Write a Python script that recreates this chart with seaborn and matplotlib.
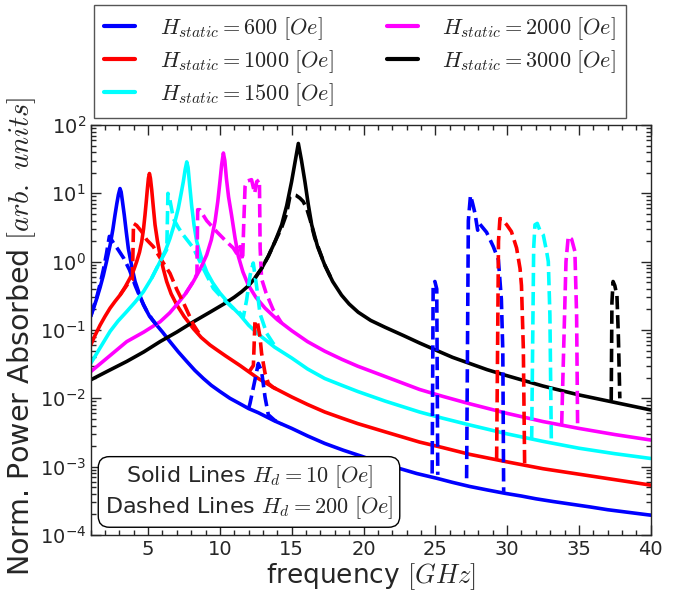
import numpy as np
import matplotlib
matplotlib.use("Agg")
import matplotlib.pyplot as plt
from matplotlib.ticker import MultipleLocator, FixedLocator, NullFormatter
import seaborn as sns

# ---------------- data ----------------
# Values are log10(power) as read on the logarithmic y axis.
# Solid lines (H_d = 10 Oe)
f_600 = [1.0, 1.2, 1.42, 1.65, 1.88, 2.1, 2.35, 2.55, 2.69, 2.82, 2.93, 3.04, 3.12, 3.2, 3.34, 3.48, 3.62,
         3.85, 4.09, 4.4, 4.67, 5.1, 5.6, 6.0, 6.52, 7.1, 7.69, 8.25, 8.85, 9.4, 10.0, 10.7, 11.4, 12.0,
         12.67, 13.8, 15.0, 16.1, 17.3, 18.6, 19.9, 21.1, 22.4, 23.7, 25.1, 26.2, 27.4, 28.6, 29.85, 31.0,
         32.0, 33.2, 34.5, 35.8, 37.0, 38.5, 40.0]
lp_600 = [-0.80, -0.68, -0.54, -0.38, -0.20, 0.0, 0.24, 0.48, 0.68, 0.85, 0.98, 1.07, 1.02, 0.90, 0.68, 0.43,
          0.195, -0.06, -0.29, -0.48, -0.63, -0.80, -0.93, -1.03, -1.17, -1.32, -1.46, -1.59, -1.71, -1.81,
          -1.90, -2.00, -2.08, -2.15, -2.21, -2.33, -2.44, -2.55, -2.66, -2.76, -2.85, -2.94, -3.02, -3.10,
          -3.17, -3.23, -3.29, -3.34, -3.39, -3.43, -3.47, -3.51, -3.55, -3.59, -3.63, -3.67, -3.71]

f_1000 = [1.0, 1.3, 1.65, 2.0, 2.35, 2.7, 3.04, 3.4, 3.74, 4.0, 4.2, 4.4, 4.55, 4.68, 4.78, 4.87, 4.95, 5.02,
          5.09, 5.16, 5.25, 5.36, 5.48, 5.65, 5.83, 6.05, 6.29, 6.6, 6.99, 7.5, 8.15, 8.7, 9.31, 9.85, 10.4,
          11.4, 12.0, 12.67, 13.8, 15.0, 16.1, 17.3, 18.5, 19.6, 21.5, 23.9, 25.5, 27.4, 30.0, 32.5, 35.0,
          37.5, 40.0]
lp_1000 = [-1.22, -1.08, -0.93, -0.80, -0.68, -0.58, -0.49, -0.37, -0.24, -0.12, 0.0, 0.14, 0.29, 0.48, 0.68,
           0.88, 1.07, 1.22, 1.29, 1.22, 1.05, 0.80, 0.54, 0.30, 0.10, -0.10, -0.29, -0.47, -0.63, -0.80,
           -0.98, -1.11, -1.22, -1.30, -1.38, -1.52, -1.61, -1.71, -1.85, -1.98, -2.09, -2.20, -2.29, -2.37,
           -2.49, -2.64, -2.72, -2.82, -2.93, -3.03, -3.11, -3.19, -3.27]

f_1500 = [1.0, 1.6, 2.35, 2.9, 3.51, 4.1, 4.67, 5.25, 5.83, 6.2, 6.52, 6.8, 7.1, 7.3, 7.45, 7.58, 7.69, 7.78,
          7.88, 8.03, 8.2, 8.38, 8.7, 9.08, 9.5, 10.0, 10.7, 11.4, 12.0, 12.67, 13.8, 15.0, 16.1, 17.3, 18.5,
          19.6, 21.5, 23.9, 25.5, 27.4, 30.0, 32.5, 35.0, 37.5, 40.0]
lp_1500 = [-1.49, -1.28, -1.02, -0.87, -0.73, -0.59, -0.44, -0.24, 0.0, 0.16, 0.34, 0.53, 0.78, 1.0, 1.17,
           1.35, 1.46, 1.38, 1.15, 0.82, 0.53, 0.30, 0.06, -0.15, -0.31, -0.46, -0.63, -0.78, -0.93, -1.06,
           -1.25, -1.41, -1.57, -1.71, -1.81, -1.90, -2.04, -2.20, -2.29, -2.39, -2.52, -2.63, -2.73, -2.81,
           -2.88]

f_2000 = [1.0, 2.2, 3.51, 4.7, 5.83, 6.5, 6.99, 7.6, 8.15, 8.65, 9.08, 9.4, 9.66, 9.85, 10.0, 10.12, 10.24,
          10.34, 10.45, 10.6, 10.81, 11.05, 11.28, 11.6, 11.97, 12.5, 13.14, 14.0, 15.0, 16.1, 17.3, 18.5,
          19.6, 21.5, 23.9, 25.5, 27.4, 30.0, 32.5, 35.0, 37.5, 40.0]
lp_2000 = [-1.61, -1.40, -1.17, -1.03, -0.88, -0.75, -0.63, -0.47, -0.29, -0.10, 0.10, 0.32, 0.59, 0.88, 1.17,
           1.42, 1.59, 1.48, 1.22, 0.95, 0.68, 0.35, 0.08, -0.15, -0.34, -0.52, -0.68, -0.85, -1.01, -1.17,
           -1.31, -1.43, -1.53, -1.68, -1.87, -1.97, -2.08, -2.22, -2.34, -2.44, -2.53, -2.61]

f_3000 = [1.0, 2.2, 3.51, 4.7, 5.83, 7.0, 8.15, 9.3, 10.35, 11.0, 11.51, 12.0, 12.44, 12.9, 13.37, 13.85, 14.3,
          14.65, 14.99, 15.25, 15.46, 15.68, 15.92, 16.15, 16.39, 16.8, 17.3, 17.85, 18.47, 19.0, 19.63, 20.5,
          21.5, 22.77, 23.9, 25.1, 26.2, 27.4, 28.6, 29.85, 32.5, 35.0, 37.5, 40.0]
lp_3000 = [-1.73, -1.60, -1.46, -1.32, -1.17, -1.03, -0.88, -0.74, -0.61, -0.52, -0.44, -0.35, -0.24, -0.10,
           0.08, 0.30, 0.54, 0.82, 1.17, 1.48, 1.73, 1.48, 1.17, 0.84, 0.54, 0.22, -0.05, -0.29, -0.49, -0.62,
           -0.74, -0.86, -0.96, -1.08, -1.19, -1.30, -1.40, -1.49, -1.58, -1.66, -1.82, -1.95, -2.06, -2.17]

# Dashed lines (H_d = 200 Oe), as separate segments
fd_600 = [
    [1.0, 1.2, 1.42, 1.65, 1.88, 2.1, 2.3, 2.6, 2.93, 3.3, 3.7, 4.1, 4.5, 4.9, 5.3, 5.6],
    [12.0, 12.1, 12.44, 12.67, 12.9, 13.14, 13.37, 13.8, 14.3],
    [24.78, 24.85, 24.97, 25.1, 25.17],
    [27.18, 27.3, 27.45, 27.6, 27.76, 27.95, 28.1, 28.57, 29.04, 29.39, 29.6, 29.7, 29.76],
]
lpd_600 = [
    [-0.80, -0.66, -0.52, -0.33, -0.12, 0.12, 0.37, 0.27, 0.17, 0.05, -0.12, -0.35, -0.55, -0.72, -0.85, -0.93],
    [-2.15, -2.07, -1.73, -1.49, -1.60, -1.98, -2.24, -2.32, -2.38],
    [-3.10, -0.35, -0.29, -0.40, -3.12],
    [-3.17, 0.60, 0.97, 0.85, 0.71, 0.46, 0.55, 0.43, 0.22, 0.03, -0.55, -1.30, -3.37],
]

fd_1000 = [
    [3.04, 3.6, 3.9, 3.95, 3.98, 4.2, 4.55, 4.9, 5.36, 5.94, 6.52, 7.0, 7.5, 8.15, 8.7],
    [12.0, 12.33, 12.44, 12.6, 12.79, 12.9, 13.14, 13.37, 13.7, 14.2],
    [29.27, 29.4, 29.5, 29.65, 29.97, 30.3, 30.66, 30.9, 31.0, 31.13, 31.22],
]
lpd_1000 = [
    [-0.49, -0.32, -0.26, 0.20, 0.56, 0.53, 0.44, 0.32, 0.22, 0.02, -0.17, -0.41, -0.62, -0.92, -1.10],
    [-1.62, -1.52, -0.87, -0.87, -1.10, -1.34, -1.63, -1.78, -1.84, -1.89],
    [-2.90, 0.30, 0.63, 0.62, 0.54, 0.44, 0.20, -0.10, -0.35, -1.27, -2.95],
]

fd_1500 = [
    [5.25, 5.83, 6.3, 6.34, 6.38, 6.5, 6.76, 7.1, 7.45, 8.15, 8.61, 9.08, 9.54, 10.24, 10.9, 11.3, 11.63,
     11.86, 12.1, 12.32, 12.56, 12.79, 13.26, 13.72, 14.0],
    [31.71, 31.85, 31.94, 32.1, 32.3, 32.52, 32.75, 32.87, 32.98, 33.08],
]
lpd_1500 = [
    [-0.24, 0.0, 0.18, 0.60, 1.00, 0.92, 0.63, 0.50, 0.39, 0.20, 0.0, -0.20, -0.39, -0.55, -0.68, -0.73,
     -0.81, -0.56, -0.20, -0.02, -0.37, -0.76, -1.05, -1.20, -1.25],
    [-2.60, 0.20, 0.54, 0.56, 0.45, 0.39, 0.15, 0.0, -0.78, -2.63],
]

fd_2000 = [
    [7.6, 8.15, 8.4, 8.45, 8.6, 9.08, 9.77, 10.47, 10.93, 11.17, 11.4, 11.58, 11.65, 11.75, 11.9, 12.2, 12.42,
     12.56, 12.75, 12.8, 12.9, 13.2, 13.7, 14.3],
    [33.8, 34.1, 34.26, 34.49, 34.72, 34.84, 34.91],
]
lpd_2000 = [
    [-0.47, -0.29, -0.18, 0.76, 0.76, 0.60, 0.44, 0.29, 0.20, 0.12, 0.22, 0.02, 0.50, 1.10, 1.18, 1.20, 1.00,
     1.17, 1.20, 0.20, -0.25, -0.45, -0.70, -0.90],
    [-2.38, 0.0, 0.37, 0.33, 0.15, -0.78, -2.41],
]

fd_3000 = [
    [12.44, 12.9, 13.37, 13.85, 14.3, 14.64, 14.87, 15.1, 15.3, 15.57, 15.8, 16.04, 16.3, 16.6, 17.3, 17.85],
    [37.25, 37.3, 37.38, 37.5, 37.65, 37.75, 37.85],
]
lpd_3000 = [
    [-0.24, -0.10, 0.08, 0.30, 0.50, 0.70, 0.95, 0.98, 0.97, 0.93, 0.88, 0.78, 0.60, 0.35, -0.05, -0.29],
    [-2.03, -0.60, -0.29, -0.35, -0.50, -1.10, -2.00],
]

fields = [600, 1000, 1500, 2000, 3000]
colors = ["#0000ff", "#ff0000", "#00ffff", "#ff00ff", "#000000"]
labels = [r"$H_{static} = %d\ [Oe]$" % h for h in fields]
x_ticks = [5, 10, 15, 20, 25, 30, 35, 40]
y_decades = [-4, -3, -2, -1, 0, 1, 2]

solid_f = [f_600, f_1000, f_1500, f_2000, f_3000]
solid_lp = [lp_600, lp_1000, lp_1500, lp_2000, lp_3000]
dash_f = [fd_600, fd_1000, fd_1500, fd_2000, fd_3000]
dash_lp = [lpd_600, lpd_1000, lpd_1500, lpd_2000, lpd_3000]

# ---------------- style ----------------
sns.set_style("ticks")
plt.rcParams["font.family"] = ["DejaVu Sans"]
plt.rcParams["mathtext.fontset"] = "cm"
plt.rcParams["axes.linewidth"] = 1.0

W, H = 679, 593
fig = plt.figure(figsize=(W / 100, H / 100), dpi=100)
ax_l, ax_r, ax_t, ax_b = 90.7, 650.7, 125, 535
ax = fig.add_axes([ax_l / W, 1 - ax_b / H, (ax_r - ax_l) / W, (ax_b - ax_t) / H])

LW = 2.6
for fs, lps, c, lab in zip(solid_f, solid_lp, colors, labels):
    sns.lineplot(x=fs, y=np.power(10.0, lps), ax=ax, color=c, linewidth=LW, sort=False,
                 estimator=None, label=lab)

for segs_f, segs_lp, c in zip(dash_f, dash_lp, colors):
    for sf, slp in zip(segs_f, segs_lp):
        sns.lineplot(x=sf, y=np.power(10.0, slp), ax=ax, color=c, linewidth=LW, linestyle="--",
                     sort=False, estimator=None)

ax.set_yscale("log")
ax.set_xlim(1, 40)
ax.set_ylim(1e-4, 1e2)
ax.set_xticks(x_ticks)
ax.xaxis.set_minor_locator(MultipleLocator(1))
major_y = [10.0 ** k for k in y_decades]
minor_y = [m * 10.0 ** k for k in y_decades[:-1] for m in range(2, 10)]
ax.yaxis.set_major_locator(FixedLocator(major_y))
ax.yaxis.set_minor_locator(FixedLocator(minor_y))
ax.yaxis.set_minor_formatter(NullFormatter())
ax.tick_params(which="both", direction="in", top=True, right=True, labelsize=14, width=1)
ax.tick_params(which="major", length=7)
ax.tick_params(which="minor", length=3.5)

ax.set_xlabel(r"frequency $[GHz]$", fontsize=19, labelpad=2)
ax.set_ylabel(r"Norm. Power Absorbed $[arb.\ units]$", fontsize=20.5)
ax.yaxis.set_label_coords(-0.094, 0.485)

hs, ls = ax.get_legend_handles_labels()
leg = ax.legend(hs[:5], ls[:5], ncol=2, loc="upper center", bbox_to_anchor=(0.481, 1.2927),
                borderaxespad=0, fontsize=16, handlelength=1.4, handletextpad=1.1,
                columnspacing=2.4, labelspacing=0.28, fancybox=False, framealpha=1,
                edgecolor="#555555", borderpad=0.45)
leg.get_frame().set_linewidth(1.0)
for lh in leg.get_lines():
    lh.set_linewidth(3)
    lh.set_linestyle("-")

ax.text(0.2827, 0.105, "Solid Lines $H_d = 10\\ [Oe]$\nDashed Lines $H_d = 200\\ [Oe]$",
        transform=ax.transAxes, ha="center", va="center", multialignment="center", fontsize=16,
        zorder=10,
        bbox=dict(boxstyle="round,pad=0.3,rounding_size=0.5", fc="white", ec="black", lw=1))

fig.savefig("out.png", dpi=100)
